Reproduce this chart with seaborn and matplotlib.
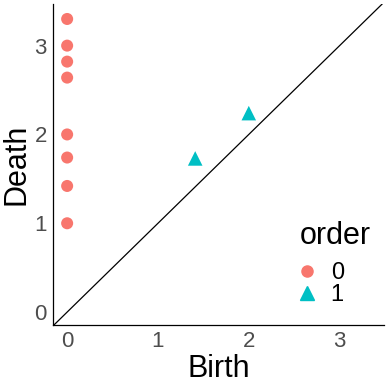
import numpy as np
import pandas as pd
import seaborn as sns
import matplotlib.pyplot as plt
from matplotlib.lines import Line2D

sns.set_theme(style="white")
plt.rcParams['font.family'] = ['Liberation Sans', 'DejaVu Sans']

# persistence diagram points
birth = [0, 0, 0, 0, 0, 0, 0, 0, 1.41, 2.0]
death = [3.30, 3.0, 2.82, 2.64, 2.0, 1.74, 1.42, 1.0, 1.73, 2.24]
order = [0, 0, 0, 0, 0, 0, 0, 0, 1, 1]
df = pd.DataFrame({"Birth": birth, "Death": death, "order": order})

colors = {0: "#F8766D", 1: "#00BFC4"}

fig = plt.figure(figsize=(3.88, 3.88), dpi=100)
ax = fig.add_axes([0.137, 0.162, 0.853, 0.828])

sns.scatterplot(data=df[df.order == 0], x="Birth", y="Death", color=colors[0],
                marker="o", s=75, edgecolor="none", legend=False, ax=ax)
sns.scatterplot(data=df[df.order == 1], x="Birth", y="Death", color=colors[1],
                marker="^", s=110, edgecolor="none", legend=False, ax=ax)

ax.axline((0, 0), slope=1, color="black", linewidth=0.9, zorder=0)

ax.set_xlim(-0.154, 3.49)
ax.set_ylim(-0.147, 3.47)
ax.set_xticks([0, 1, 2, 3])
ax.set_yticks([0, 1, 2, 3])
ax.tick_params(length=0, labelsize=16, labelcolor="#4D4D4D", pad=4.5)
ax.set_xlabel("Birth", fontsize=22, color="black", labelpad=1)
ax.set_ylabel("Death", fontsize=22, color="black", labelpad=2)
sns.despine(ax=ax)
for s in ["left", "bottom"]:
    ax.spines[s].set_color("black")
    ax.spines[s].set_linewidth(0.9)

handles = [Line2D([], [], marker="o", color=colors[0], linestyle="none", markersize=8),
           Line2D([], [], marker="^", color=colors[1], linestyle="none", markersize=9.5)]
leg = ax.legend(handles, ["0", "1"], title="order", loc="upper left",
                bbox_to_anchor=(0.71, 0.36), frameon=False, fontsize=17,
                title_fontsize=22, handletextpad=0.7, labelspacing=0.0,
                handlelength=0.6, borderpad=0, labelcolor="black")
leg.get_title().set_color("black")
leg._legend_box.align = "left"
leg._legend_box.sep = 8

fig.savefig("out.png", dpi=100)
